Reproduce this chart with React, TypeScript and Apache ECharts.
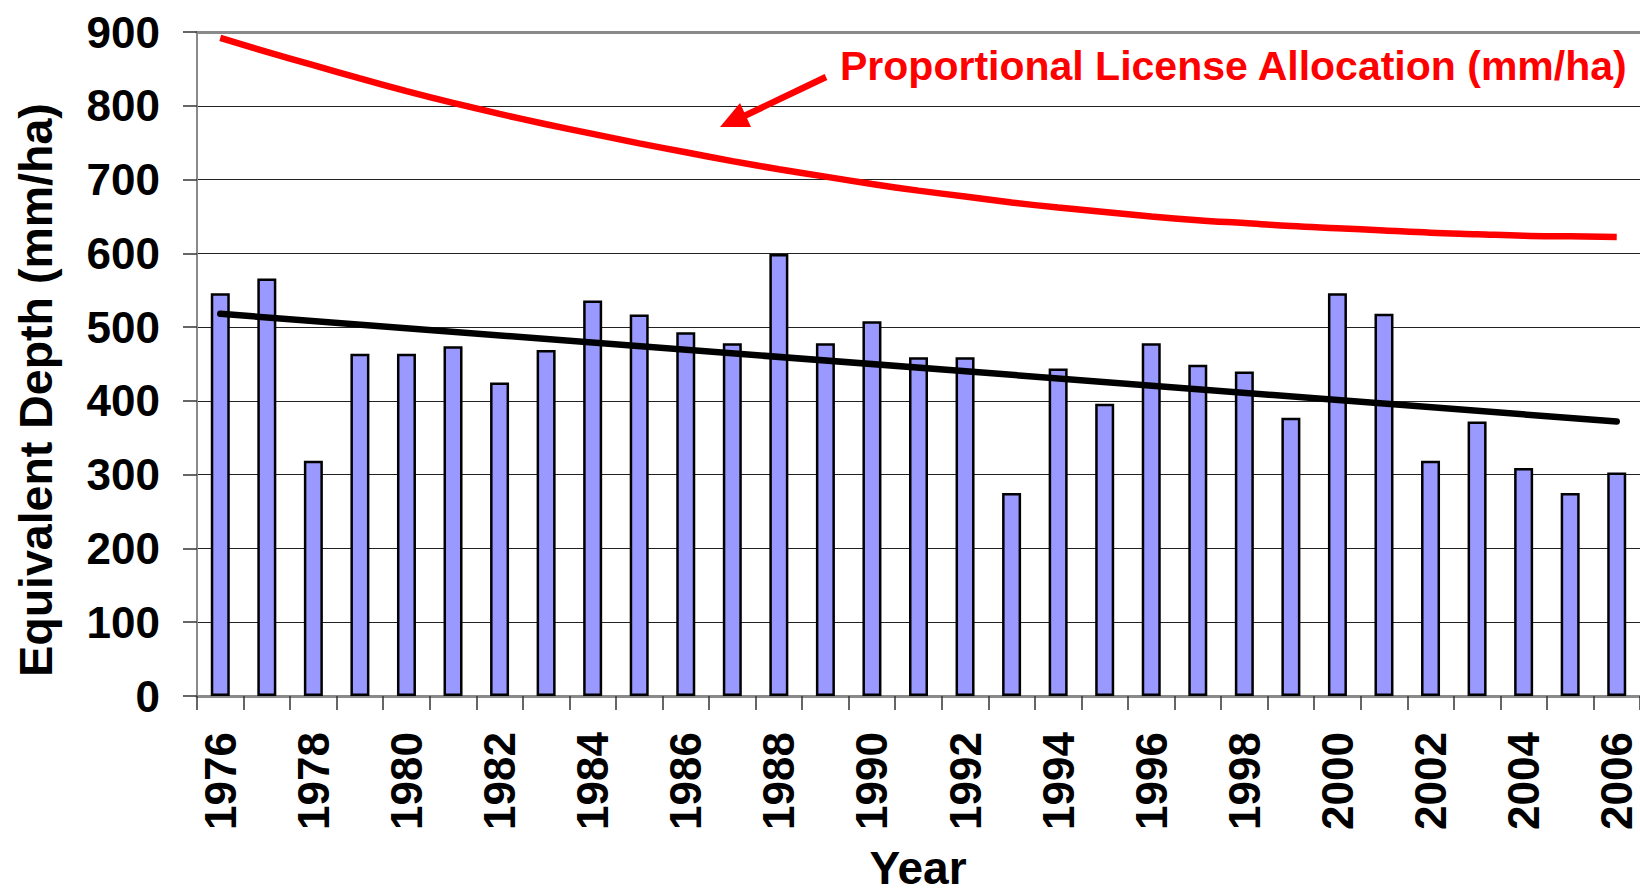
import React, { useEffect, useRef } from 'react';
import * as echarts from 'echarts';

const YEARS = [
  '1976', '1977', '1978', '1979', '1980', '1981', '1982', '1983', '1984', '1985',
  '1986', '1987', '1988', '1989', '1990', '1991', '1992', '1993', '1994', '1995',
  '1996', '1997', '1998', '1999', '2000', '2001', '2002', '2003', '2004', '2005', '2006',
];

const EQUIVALENT_DEPTH = [
  546, 566, 319, 464, 464, 474, 425, 469, 536, 517,
  493, 478, 599, 478, 508, 459, 459, 275, 444, 396,
  478, 449, 440, 377, 546, 518, 319, 372, 309, 275, 303,
];

const LICENSE_ALLOCATION = [
  892, 873, 855, 837, 820, 804, 789, 775, 762, 749,
  737, 725, 714, 704, 694, 685, 677, 669, 662, 656,
  650, 645, 641, 637, 634, 631, 628, 626, 624, 623, 622,
];

const TREND_START = 518;
const TREND_END = 372;

const Y_MIN = 0;
const Y_MAX = 900;
const Y_STEP = 100;

const ANNOTATION = 'Proportional License Allocation (mm/ha)';
const Y_TITLE = 'Equivalent Depth (mm/ha)';
const X_TITLE = 'Year';

const FONT = "'Liberation Sans', Arial, Helvetica, sans-serif";

export default function App() {
  const ref = useRef<HTMLDivElement>(null);

  useEffect(() => {
    if (!ref.current) return;
    const chart = echarts.init(ref.current, null, { renderer: 'svg' });
    chart.setOption({
      animation: false,
      backgroundColor: '#ffffff',
      textStyle: { fontFamily: FONT },
      grid: {
        left: 197,
        right: 0,
        top: 32,
        bottom: 199,
        containLabel: false,
        outerBoundsMode: 'none',
      },
      xAxis: [
        {
          type: 'category',
          data: YEARS,
          boundaryGap: true,
          axisLine: { show: true, lineStyle: { color: '#8a8a8a', width: 3 } },
          axisTick: {
            show: true,
            interval: 0,
            length: 14,
            lineStyle: { color: '#333333', width: 1.5 },
          },
          axisLabel: {
            interval: 1,
            rotate: 90,
            margin: 36,
            fontSize: 44,
            fontWeight: 'bold',
            color: '#000000',
            fontFamily: FONT,
          },
          splitLine: { show: false },
        },
        {
          type: 'category',
          data: YEARS,
          position: 'top',
          axisLine: { show: true, lineStyle: { color: '#8a8a8a', width: 3 } },
          axisTick: { show: false },
          axisLabel: { show: false },
          splitLine: { show: false },
        },
      ],
      yAxis: {
        type: 'value',
        min: Y_MIN,
        max: Y_MAX,
        interval: Y_STEP,
        axisLine: { show: true, lineStyle: { color: '#8a8a8a', width: 2 } },
        axisTick: { show: true, length: 14, lineStyle: { color: '#333333', width: 1.5 } },
        axisLabel: {
          margin: 37,
          fontSize: 44,
          fontWeight: 'bold',
          color: '#000000',
          fontFamily: FONT,
        },
        splitLine: { show: true, lineStyle: { color: '#222222', width: 1 } },
      },
      series: [
        {
          name: 'Equivalent Depth',
          type: 'bar',
          xAxisIndex: 0,
          data: EQUIVALENT_DEPTH,
          barWidth: 19,
          itemStyle: { color: '#9999FF', borderColor: '#000000', borderWidth: 2.5 },
        },
        {
          name: 'Trend',
          type: 'line',
          xAxisIndex: 0,
          data: [
            [YEARS[0], TREND_START],
            [YEARS[YEARS.length - 1], TREND_END],
          ],
          symbol: 'none',
          lineStyle: { color: '#000000', width: 6.5, cap: 'round' },
          itemStyle: { color: '#000000' },
          z: 3,
        },
        {
          name: 'Proportional License Allocation',
          type: 'line',
          xAxisIndex: 0,
          data: LICENSE_ALLOCATION,
          symbol: 'none',
          smooth: 0.4,
          lineStyle: { color: '#FF0000', width: 6.5 },
          itemStyle: { color: '#FF0000' },
          z: 4,
        },
      ],
      graphic: [
        {
          type: 'text',
          x: 36,
          y: 390,
          rotation: Math.PI / 2,
          style: {
            text: Y_TITLE,
            fill: '#000000',
            font: `bold 46.5px ${FONT}`,
            align: 'center',
            verticalAlign: 'middle',
          },
          z: 10,
        },
        {
          type: 'text',
          x: 918,
          y: 868,
          style: {
            text: X_TITLE,
            fill: '#000000',
            font: `bold 46px ${FONT}`,
            align: 'center',
            verticalAlign: 'middle',
          },
          z: 10,
        },
        {
          type: 'text',
          left: 840,
          top: 45,
          style: {
            text: ANNOTATION,
            fill: '#FF0000',
            font: `bold 41px ${FONT}`,
          },
          z: 10,
        },
        {
          type: 'line',
          shape: { x1: 826, y1: 77, x2: 740, y2: 118 },
          style: { stroke: '#FF0000', lineWidth: 6.5 },
          z: 10,
        },
        {
          type: 'polygon',
          shape: {
            points: [
              [720, 127],
              [740, 103],
              [751, 127],
            ],
          },
          style: { fill: '#FF0000' },
          z: 10,
        },
      ],
    });
    return () => chart.dispose();
  }, []);

  return (
    <div
      ref={ref}
      style={{ position: 'fixed', left: 0, top: 0, width: 1640, height: 895, background: '#ffffff' }}
    />
  );
}
